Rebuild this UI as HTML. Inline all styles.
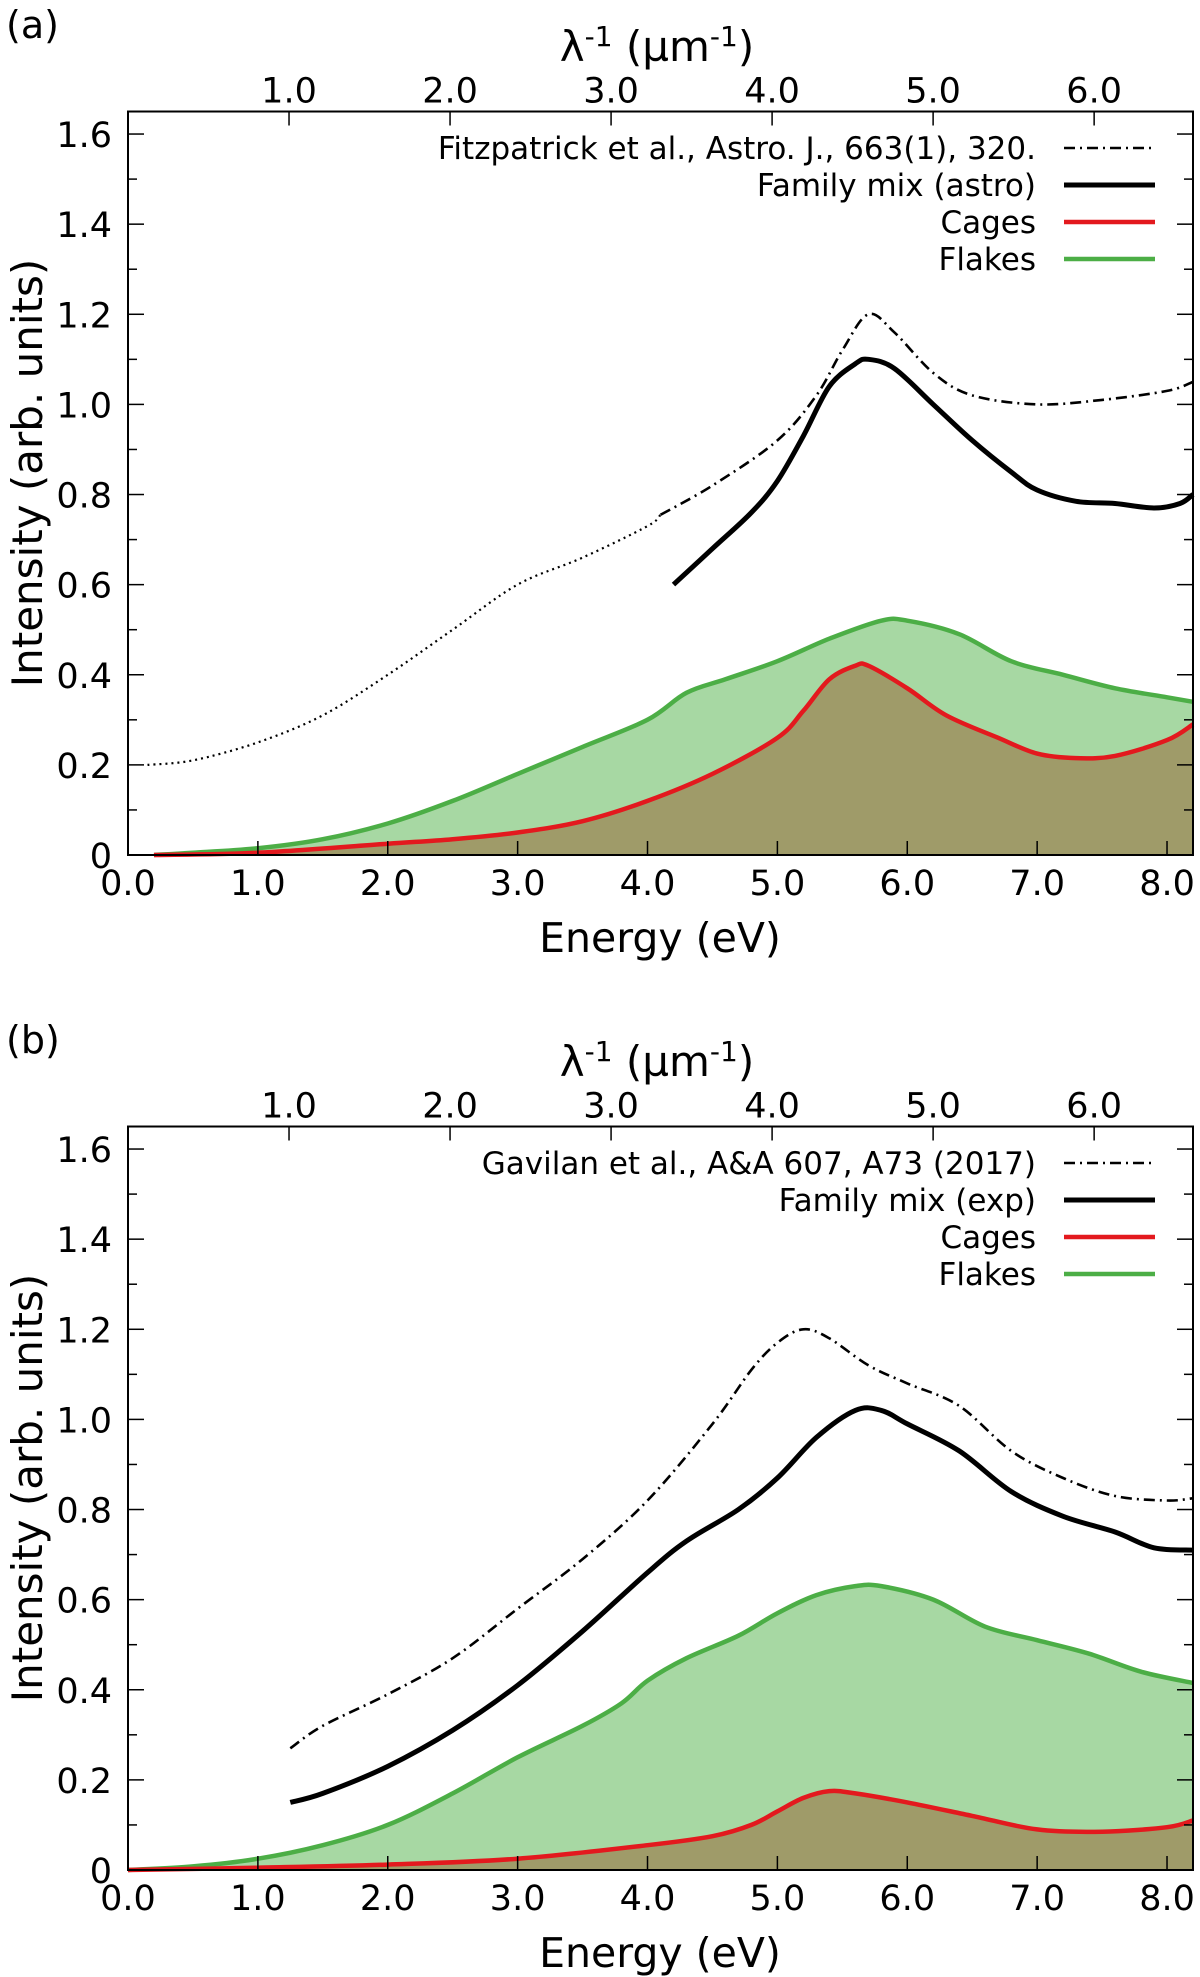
<!DOCTYPE html>
<html><head><meta charset="utf-8"><style>
html,body{margin:0;padding:0;background:#fff;}
svg{display:block;font-family:"DejaVu Sans","Liberation Sans",sans-serif;}
</style></head><body>
<svg id="fig" width="1200" height="1977" viewBox="0 0 1200 1977" xmlns="http://www.w3.org/2000/svg"></svg>
<script>
// ---- Panel (a) data ----
const aRefX = [0.15,0.5,1.0,1.5,2.0,2.5,3.0,3.5,4.0,4.1,4.5,5.0,5.3,5.5,5.7,5.9,6.2,6.5,7.0,7.5,8.0,8.2];
const aRefY = [0.20,0.21,0.25,0.31,0.40,0.50,0.60,0.66,0.73,0.755,0.82,0.92,1.02,1.12,1.20,1.16,1.07,1.02,1.00,1.01,1.03,1.05];
const aRefDottedEnd = 9;
const aMixX = [4.2,4.5,4.8,5.0,5.2,5.4,5.6,5.7,5.9,6.2,6.5,6.8,7.0,7.3,7.6,7.9,8.1,8.2];
const aMixY = [0.60,0.68,0.76,0.83,0.93,1.04,1.09,1.10,1.08,1.00,0.92,0.85,0.81,0.785,0.78,0.77,0.78,0.80];
const aCageX = [0.2,1.0,2.0,2.5,3.0,3.5,4.0,4.5,5.0,5.2,5.4,5.6,5.7,6.0,6.3,6.7,7.0,7.3,7.6,8.0,8.2];
const aCageY = [0,0.005,0.025,0.035,0.05,0.075,0.12,0.18,0.26,0.32,0.39,0.42,0.42,0.37,0.31,0.26,0.225,0.215,0.22,0.255,0.29];
const aFlakeX = [0.2,0.5,1.0,1.5,2.0,2.5,3.0,3.5,4.0,4.3,4.6,5.0,5.4,5.8,6.0,6.4,6.8,7.2,7.6,8.0,8.2];
const aFlakeY = [0,0.005,0.015,0.035,0.07,0.12,0.18,0.24,0.30,0.36,0.39,0.43,0.48,0.52,0.52,0.49,0.43,0.40,0.37,0.35,0.34];
// ---- Panel (b) data ----
const bRefX = [1.25,1.5,2.0,2.5,3.0,3.5,4.0,4.5,4.8,5.0,5.2,5.4,5.7,6.0,6.4,6.8,7.2,7.6,8.0,8.2];
const bRefY = [0.27,0.32,0.39,0.47,0.58,0.69,0.82,0.99,1.11,1.17,1.20,1.18,1.12,1.08,1.03,0.93,0.87,0.83,0.82,0.825];
const bMixX = [1.25,1.5,2.0,2.5,3.0,3.5,4.0,4.3,4.7,5.0,5.3,5.6,5.8,6.0,6.4,6.8,7.2,7.6,7.9,8.2];
const bMixY = [0.15,0.17,0.23,0.31,0.41,0.53,0.66,0.73,0.80,0.87,0.96,1.02,1.02,0.99,0.93,0.84,0.785,0.75,0.715,0.71];
const bCageX = [0,1.0,2.0,3.0,4.0,4.5,4.8,5.0,5.2,5.4,5.6,6.0,6.5,7.0,7.5,8.0,8.2];
const bCageY = [0,0.005,0.012,0.025,0.055,0.075,0.10,0.13,0.16,0.175,0.17,0.15,0.12,0.09,0.085,0.095,0.11];
const bFlakeX = [0,0.5,1.0,1.5,2.0,2.5,3.0,3.5,3.8,4.0,4.3,4.7,5.0,5.3,5.6,5.8,6.2,6.6,7.0,7.4,7.8,8.2];
const bFlakeY = [0,0.008,0.025,0.055,0.10,0.17,0.25,0.32,0.37,0.42,0.47,0.52,0.57,0.61,0.63,0.63,0.60,0.54,0.51,0.48,0.44,0.415];
// ---- Axes ticks ----
const xTicks = [0,1,2,3,4,5,6,7,8];
const yTicks = [0,0.2,0.4,0.6,0.8,1.0,1.2,1.4,1.6];
const topTicks = [1,2,3,4,5,6];

const NS="http://www.w3.org/2000/svg";
const svg=document.getElementById('fig');
function mk(tag,attrs,parent){const e=document.createElementNS(NS,tag);for(const k in attrs)e.setAttribute(k,attrs[k]);(parent||svg).appendChild(e);return e;}
const L=128,R=1193,XMAX=8.2,YMAX=1.65,PU=450.6;
function sx(v){return L+(v/XMAX)*(R-L);}
function smooth(P){ // catmull-rom to bezier
  let d='M'+P[0][0].toFixed(1)+','+P[0][1].toFixed(1);
  for(let i=0;i<P.length-1;i++){const p0=P[i-1]||P[i],p1=P[i],p2=P[i+1],p3=P[i+2]||p2;
    const c1=[p1[0]+(p2[0]-p0[0])/6,p1[1]+(p2[1]-p0[1])/6],c2=[p2[0]-(p3[0]-p1[0])/6,p2[1]-(p3[1]-p1[1])/6];
    d+=' C'+c1.map(v=>v.toFixed(1)).join(',')+' '+c2.map(v=>v.toFixed(1)).join(',')+' '+p2[0].toFixed(1)+','+p2[1].toFixed(1);}
  return d;}

function panel(off,label,legendText,refX,refY,dottedEnd,mixX,mixY,cageX,cageY,flakeX,flakeY,mixLabel){
  const y0=855+off;
  const sy=v=>y0-v*PU;
  const top=sy(YMAX);
  const g=mk('g',{});
  
  
  const P=(xs,ys)=>xs.map((x,i)=>[sx(x),sy(ys[i])]);
  const area=(xs,ys,fill,name)=>{const d=smooth(P(xs,ys))+' L'+sx(xs[xs.length-1]).toFixed(1)+','+y0+' L'+sx(xs[0]).toFixed(1)+','+y0+' Z';
    const p=mk('path',{d:d,fill:fill},g);
    };
  area(flakeX,flakeY,'#a7d8a3','flakes-area');
  area(cageX,cageY,'#9f9b69','cages-area');
  const line=(xs,ys,stroke,w,dash,name)=>{const p=mk('path',{d:smooth(P(xs,ys)),fill:'none',stroke:stroke,'stroke-width':w,'stroke-linejoin':'round'},g);
    if(dash)p.setAttribute('stroke-dasharray',dash);
    };
  line(flakeX,flakeY,'#4cae46',4.5,null,'flakes-line');
  line(cageX,cageY,'#e3191e',4.5,null,'cages-line');
  if(dottedEnd>0){
    line(refX.slice(0,dottedEnd+1),refY.slice(0,dottedEnd+1),'#000',2.2,'2 4','reference-dotted');
    line(refX.slice(dottedEnd),refY.slice(dottedEnd),'#000',2.6,'11 5 2 5','reference-line');
  } else line(refX,refY,'#000',2.6,'11 5 2 5','reference-line');
  line(mixX,mixY,'#000',5,null,'family-mix-line');
  const b=mk('rect',{x:L,y:top,width:R-L,height:y0-top,fill:'none',stroke:'#000','stroke-width':2},g);
  
  for(let v=0;v<=1.601;v+=0.1){const yy=sy(v);const major=Math.abs(v*5-Math.round(v*5))<1e-6;const len=major?16:9;
    mk('line',{x1:L,y1:yy,x2:L+len,y2:yy,stroke:'#000','stroke-width':1.5},g);
    mk('line',{x1:R,y1:yy,x2:R-len,y2:yy,stroke:'#000','stroke-width':1.5},g);}
  yTicks.forEach(v=>{const t=mk('text',{x:L-16,y:sy(v)+13,'text-anchor':'end','font-size':35},g);t.textContent=v===0?'0':v.toFixed(1);
    });
  xTicks.forEach(v=>{const xx=sx(v);mk('line',{x1:xx,y1:y0,x2:xx,y2:y0-14,stroke:'#000','stroke-width':1.5},g);
    const t=mk('text',{x:xx,y:y0+40,'text-anchor':'middle','font-size':35},g);t.textContent=v.toFixed(1);
    });
  topTicks.forEach(v=>{const xx=sx(v*1.2398);mk('line',{x1:xx,y1:top,x2:xx,y2:top+14,stroke:'#000','stroke-width':1.5},g);
    const t=mk('text',{x:xx,y:top-9,'text-anchor':'middle','font-size':35},g);t.textContent=v.toFixed(1);
    });
  let t=mk('text',{x:6,y:off+38,'font-size':38},g);t.textContent='('+label+')';
  
  t=mk('text',{x:657,y:off+61,'text-anchor':'middle','font-size':42},g);
  t.innerHTML='λ<tspan dy="-15" font-size="28">-1</tspan><tspan dy="15"> (µm</tspan><tspan dy="-15" font-size="28">-1</tspan><tspan dy="15">)</tspan>';
  
  t=mk('text',{x:660,y:off+952,'text-anchor':'middle','font-size':41},g);t.textContent='Energy (eV)';
  
  t=mk('text',{x:0,y:0,'text-anchor':'middle','font-size':42,transform:'translate(42,'+(off+473)+') rotate(-90)'},g);t.textContent='Intensity (arb. units)';
  
  const rows=[[legendText,'#000',2.6,'11 5 2 5'],[mixLabel,'#000',5,null],['Cages','#e3191e',4.5,null],['Flakes','#4cae46',4.5,null]];
  rows.forEach((r,i)=>{const yy=off+148+i*37;
    const tt=mk('text',{x:1036,y:yy+11,'text-anchor':'end','font-size':31},g);tt.textContent=r[0];
    
    const ln=mk('line',{x1:1064,y1:yy,x2:1155,y2:yy,stroke:r[1],'stroke-width':r[2]},g);
    if(r[3])ln.setAttribute('stroke-dasharray',r[3]);
    });
}
panel(0,'a','Fitzpatrick et al., Astro. J., 663(1), 320.',aRefX,aRefY,aRefDottedEnd,aMixX,aMixY,aCageX,aCageY,aFlakeX,aFlakeY,'Family mix (astro)');
panel(1015,'b','Gavilan et al., A&A 607, A73 (2017)',bRefX,bRefY,0,bMixX,bMixY,bCageX,bCageY,bFlakeX,bFlakeY,'Family mix (exp)');
</script>
</body></html>
